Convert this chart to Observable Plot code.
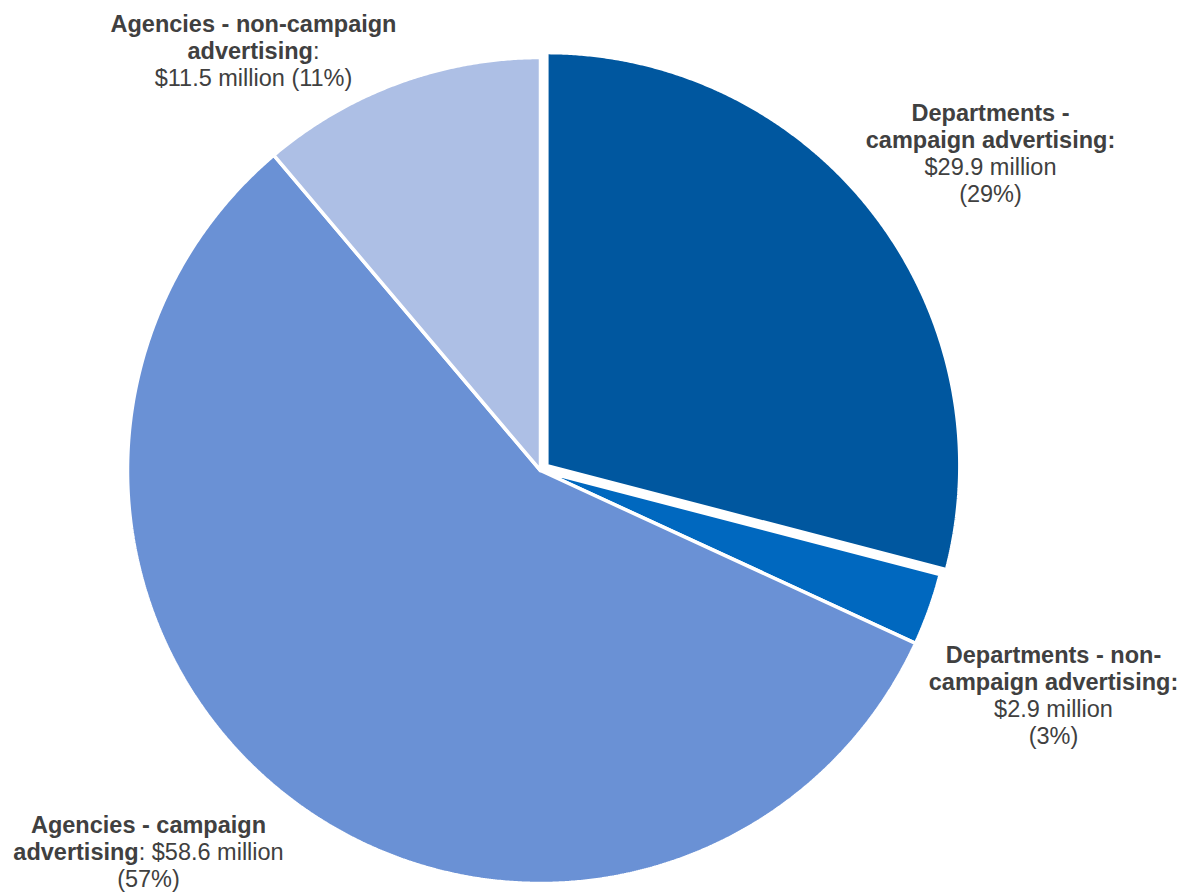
<!DOCTYPE html>
<html>
<head>
<meta charset="utf-8">
<script src="https://cdn.jsdelivr.net/npm/d3@7"></script>
<script src="https://cdn.jsdelivr.net/npm/@observablehq/plot@0.6"></script>
<style>
  html, body { margin: 0; padding: 0; background: #fff; }
  #chart svg { display: block; }
</style>
</head>
<body>
<div id="chart"></div>
<script>
// ---- Data ----
const categories = [
  "Departments - campaign advertising",
  "Departments - non-campaign advertising",
  "Agencies - campaign advertising",
  "Agencies - non-campaign advertising"
];
const values = [29.9, 2.9, 58.6, 11.5];          // $ million
const percents = [29, 3, 57, 11];                // %
const colors = ["#00579F", "#0068BF", "#6A91D5", "#ADBFE5"];
const labelTexts = [
  "**Departments -**\n**campaign advertising:**\n$29.9 million\n(29%)",
  "**Departments - non-**\n**campaign advertising:**\n$2.9 million\n(3%)",
  "**Agencies - campaign**\n**advertising**: $58.6 million\n(57%)",
  "**Agencies - non-campaign**\n**advertising**:\n$11.5 million (11%)"
];

// ---- Layout (not data) ----
const W = 1189, H = 892;
const cx = 540, cy = 470, R = 413;
const explode = [8, 0, 0, 0];
const labelPos = [
  {x: 990, y: 101},
  {x: 1053, y: 643},
  {x: 148, y: 813},
  {x: 253, y: 12}
];

// ---- Build slice outlines from values ----
const arcs = d3.pie().sort(null).value(d => d)(values);
const slicePts = [];
arcs.forEach((a, i) => {
  const mid = (a.startAngle + a.endAngle) / 2;
  const ox = cx + explode[i] * Math.sin(mid);
  const oy = cy - explode[i] * Math.cos(mid);
  slicePts.push({name: categories[i], x: ox, y: oy});
  const n = Math.max(4, Math.ceil((a.endAngle - a.startAngle) / 0.005));
  for (let k = 0; k <= n; k++) {
    const t = a.startAngle + (a.endAngle - a.startAngle) * k / n;
    slicePts.push({name: categories[i], x: ox + R * Math.sin(t), y: oy - R * Math.cos(t)});
  }
  slicePts.push({name: categories[i], x: ox, y: oy});
});

const labels = categories.map((c, i) => ({name: c, text: labelTexts[i], ...labelPos[i]}));

const svg = Plot.plot({
  width: W,
  height: H,
  margin: 0,
  x: {domain: [0, W], range: [0, W], axis: null},
  y: {domain: [0, H], range: [0, H], axis: null},
  color: {type: "ordinal", domain: categories, range: colors},
  style: {fontFamily: "'Liberation Sans', Arial, sans-serif", background: "#fff"},
  marks: [
    Plot.line(slicePts, {
      x: "x", y: "y", z: "name", fill: "name",
      stroke: "#fff", strokeWidth: 3.5, strokeLinejoin: "miter", curve: "linear"
    }),
    Plot.text(labels, {
      x: "x", y: "y", text: "text",
      fontSize: 23.5, lineHeight: 1.15, lineAnchor: "top", textAnchor: "middle",
      fill: "#404040"
    })
  ]
});

// Convert **bold** markup into bold tspans
d3.select(svg).selectAll("text").each(function() {
  const el = this;
  const targets = el.querySelectorAll("tspan").length ? Array.from(el.querySelectorAll("tspan")) : [el];
  targets.forEach(t => {
    const s = t.textContent;
    if (!s.includes("**")) return;
    t.textContent = "";
    s.split("**").forEach((part, j) => {
      if (!part) return;
      const sp = document.createElementNS("http://www.w3.org/2000/svg", "tspan");
      sp.textContent = part;
      if (j % 2 === 1) sp.setAttribute("font-weight", "bold");
      t.appendChild(sp);
    });
  });
});

document.getElementById("chart").appendChild(svg);
</script>
</body>
</html>
